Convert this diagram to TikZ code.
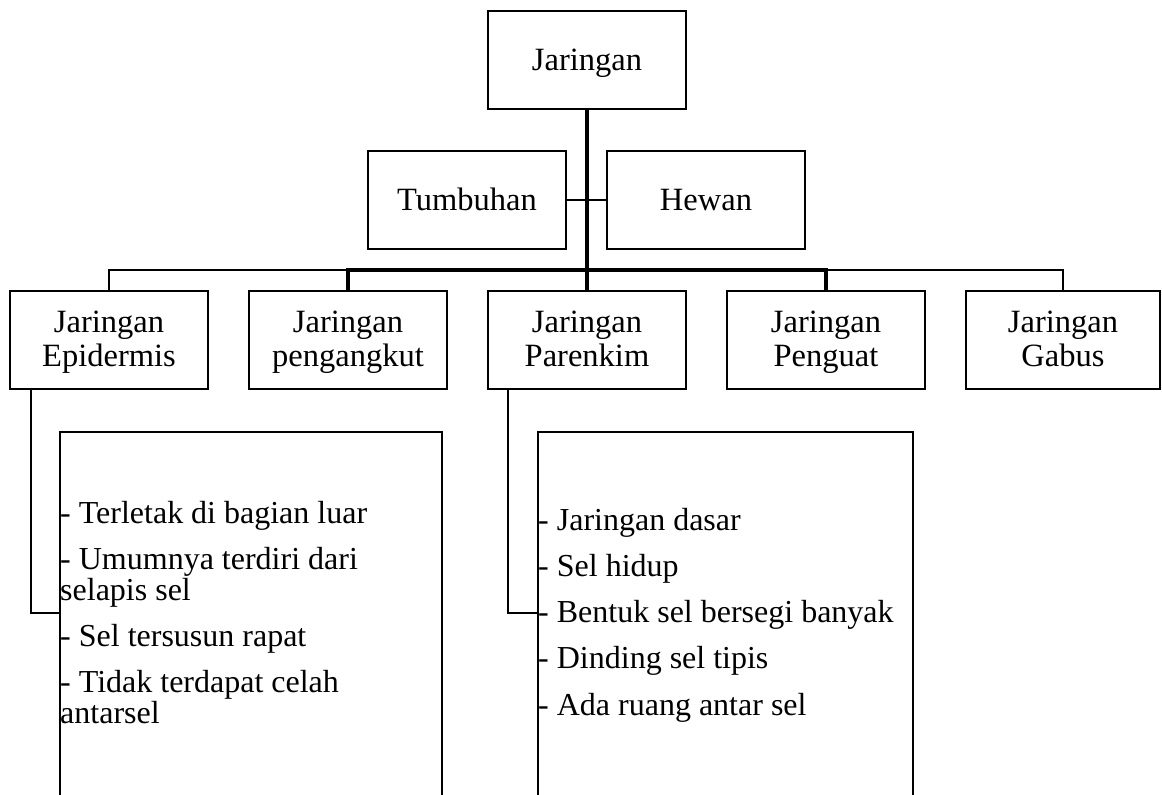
\documentclass[tikz,border=0pt]{standalone}
\usepackage{fontspec}
\setmainfont{Liberation Serif}
\begin{document}
\begin{tikzpicture}[x=1pt,y=-1pt,
  box/.style={draw,line width=2pt,minimum width=198pt,minimum height=98pt,inner sep=0pt,align=center,font=\fontsize{32.5}{34}\selectfont},
  oneline/.style={text height=25pt,text depth=5pt},
  twoline/.style={yshift=-3pt},
  descbox/.style={draw,line width=2pt,inner sep=0pt},
  thinline/.style={line width=2pt},
  thickline/.style={line width=3.2pt},
  item/.style={anchor=base west,inner sep=0pt,font=\fontsize{32}{33}\selectfont}]
\useasboundingbox (0,0) rectangle (1162,795);
% boxes
\node[box,oneline] (jar) at (587,60) {Jaringan};
\node[box,oneline] (tum) at (467,200) {Tumbuhan};
\node[box,oneline] (hew) at (706,200) {Hewan};
\node[box] (epi) at (109,340) {};
\node[box] (pen) at (348,340) {};
\node[box] (par) at (587,340) {};
\node[box] (peng) at (826,340) {};
\node[box,minimum width=194pt] (gab) at (1063,340) {};
\node[box,draw=none,twoline] (tepi) at (epi) {Jaringan\strut\\Epidermis\strut};
\node[box,draw=none,twoline] (tpen) at (pen) {Jaringan\strut\\pengangkut\strut};
\node[box,draw=none,twoline] (tpar) at (par) {Jaringan\strut\\Parenkim\strut};
\node[box,draw=none,twoline] (tpeng) at (peng) {Jaringan\strut\\Penguat\strut};
\node[box,draw=none,twoline,minimum width=194pt] (tgab) at (gab) {Jaringan\strut\\Gabus\strut};
% description boxes
\node[descbox,minimum width=382pt,minimum height=380pt] (dl) at (251,622) {};
\node[descbox,minimum width=375pt,minimum height=380pt] (dr) at (725.5,622) {};
% left items
\node[item] (l1) at (60,523) {- Terletak di bagian luar};
\node[item] (l2) at (60,569) {- Umumnya terdiri dari};
\node[item] (l3) at (60,600) {selapis sel};
\node[item] (l4) at (60,646) {- Sel tersusun rapat};
\node[item] (l5) at (60,692) {- Tidak terdapat celah};
\node[item] (l6) at (60,723) {antarsel};
% right items
\node[item] (r1) at (538,530.7) {- Jaringan dasar};
\node[item] (r2) at (538,576.7) {- Sel hidup};
\node[item] (r3) at (538,622.7) {- Bentuk sel bersegi banyak};
\node[item] (r4) at (538,668.3) {- Dinding sel tipis};
\node[item] (r5) at (538,715) {- Ada ruang antar sel};
% connectors
\coordinate (bar) at (0,270);
\draw[thickline] (jar.south) -- (par.north);
\draw[thinline] (tum.east) -- (hew.west);
\draw[thinline] (epi.north) |- (gab.north |- bar) -- (gab.north);
\draw[thickline] (pen.north) |- (peng.north |- bar) -- (peng.north);
\coordinate (ej) at (30.5,613);
\coordinate (pj) at (508,613);
\draw[thinline] (epi.south -| ej) -- (ej) -- (ej -| dl.west);
\draw[thinline] (par.south -| pj) -- (pj) -- (pj -| dr.west);
\end{tikzpicture}
\end{document}
